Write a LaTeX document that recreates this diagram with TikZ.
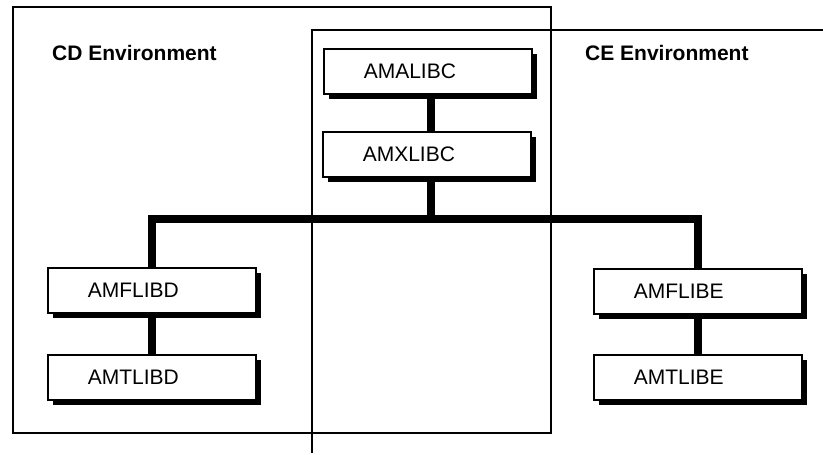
\documentclass[tikz,border=0pt]{standalone}
\usepackage{fontspec}
\setmainfont{Liberation Sans}
\usetikzlibrary{shadows}
\begin{document}
\begin{tikzpicture}[x=1pt,y=-1pt,
  libbox/.style={draw=black, fill=white, line width=1.6pt, rectangle, anchor=north west,
    minimum height=45pt, inner xsep=40pt, text width=128pt, align=left,
    text height=15pt, text depth=0pt,
    font=\fontsize{21}{25}\selectfont,
    drop shadow={shadow xshift=5pt, shadow yshift=-5pt, fill=black, opacity=1}},
  envlabel/.style={anchor=base west, inner sep=0pt, font=\fontsize{21}{25}\selectfont\bfseries},
  frame/.style={draw=black, line width=1.6pt},
  conn/.style={draw=black, line width=8pt, line join=miter}]
\useasboundingbox (0,0) rectangle (823,455);
% frames
\draw[frame] (13,7) rectangle (551,433);
\coordinate (ceTR) at (823,30);
\coordinate (ceTL) at (312,30);
\coordinate (ceBL) at (312,453);
\draw[frame] (ceTR) -- (ceTL) -- (ceBL);
% labels
\node[envlabel] (cdlab) at (52,60) {CD Environment};
\node[envlabel] (celab) at (585,60) {CE Environment};
% boxes
\node[libbox] (ama) at (323,48) {AMALIBC};
\node[libbox] (amx) at (322,131) {AMXLIBC};
\node[libbox] (fd) at (47,267) {AMFLIBD};
\node[libbox] (td) at (47,354) {AMTLIBD};
\node[libbox] (fe) at (593,268) {AMFLIBE};
\node[libbox] (te) at (593,354) {AMTLIBE};
% connectors
\coordinate (bar) at (430,219);
\draw[conn] ([xshift=3pt]ama.south) -- ([xshift=4pt]amx.north);
\draw[conn] ([xshift=4pt]amx.south) -- ([xshift=4pt]amx.south |- bar);
\draw[conn] (fd.north) -- (fd.north |- bar) -- (fe.north |- bar) -- (fe.north);
\draw[conn] (fd.south) -- (td.north);
\draw[conn] (fe.south) -- (te.north);
\end{tikzpicture}
\end{document}
